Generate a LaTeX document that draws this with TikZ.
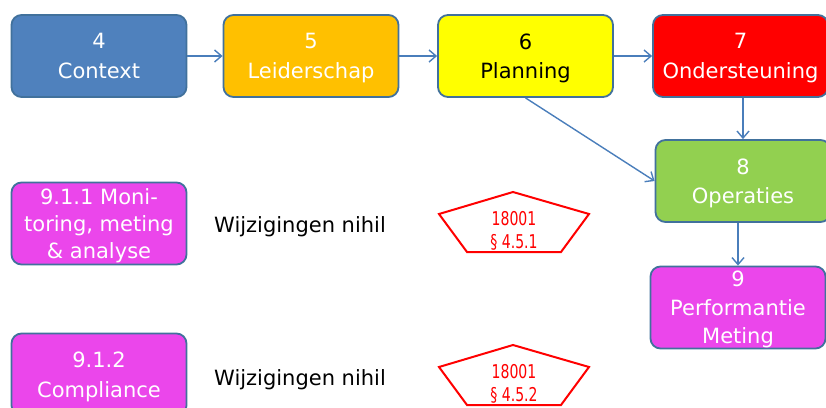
\documentclass[tikz,border=0pt]{standalone}
\usepackage{fontspec}
\setmainfont{DejaVu Sans}
\newfontfamily\narrowfont{DejaVu Sans}[FakeStretch=0.74]
\usepackage{xcolor}
\usepackage{tikz}
\usetikzlibrary{arrows.meta}
\definecolor{ctxblue}{HTML}{4F81BD}
\definecolor{leadorange}{HTML}{FFC000}
\definecolor{planyellow}{HTML}{FFFF00}
\definecolor{suppred}{HTML}{FF0000}
\definecolor{opergreen}{HTML}{92D050}
\definecolor{perfpink}{HTML}{EB46EB}
\definecolor{boxline}{HTML}{41719C}
\definecolor{arrowblue}{HTML}{4A7EBB}
\tikzstyle{process} = [rectangle, rounded corners=10pt, minimum width=175pt, minimum height=82pt, inner sep=0pt, text depth=0pt, align=center, draw=boxline, line width=1.8pt, text=white, font=\fontsize{21}{29.5}\selectfont]
\tikzstyle{remark} = [inner sep=0pt, font=\fontsize{21}{25}\selectfont]
\tikzstyle{clause} = [inner sep=0pt, align=center, text=red, font=\narrowfont\fontsize{19}{23}\selectfont]
\tikzstyle{pent} = [draw=red, line width=2pt, line join=miter]
\tikzstyle{arrow} = [line width=1.4pt, draw=arrowblue, -{Straight Barb[length=7pt,width=12pt]}]

\begin{document}
\begin{tikzpicture}[x=1pt, y=1pt, node distance=125pt]
\useasboundingbox (0,0) rectangle (826,-407);
\node (ctx) [process, fill=ctxblue] at (99,-56) {4\\Context};
\node (lead) [process, fill=leadorange, right of=ctx, xshift=87pt] {5\\Leiderschap};
\node (plan) [process, fill=planyellow, text=black, right of=lead, xshift=89.5pt] {6\\Planning};
\node (supp) [process, fill=suppred, right of=plan, xshift=90pt] {7\\Ondersteuning};
\node (oper) [process, fill=opergreen, below of=supp, xshift=2.5pt] {8\\Operaties};
\node (perf) [process, fill=perfpink, below of=oper, xshift=-5pt, yshift=-1.5pt, font=\fontsize{21}{28.3}\selectfont] {9\\Performantie\\Meting};

\node (mon) [process, fill=perfpink, below of=ctx, yshift=-42.5pt, font=\fontsize{21}{27}\selectfont] {9.1.1 Moni-\\toring, meting\\\& analyse};
\node (comp) [process, fill=perfpink, below of=mon, yshift=-26pt] {9.1.2\\Compliance};

\node (nihil1) [remark, right of=mon, xshift=76pt, yshift=-3pt] {Wijzigingen nihil};
\node (nihil2) [remark, right of=comp, xshift=76pt, yshift=-5.5pt] {Wijzigingen nihil};

\node (iso1) [clause, right of=nihil1, xshift=89pt, yshift=-4pt] {18001\\§ 4.5.1};
\node (iso2) [clause, right of=nihil2, xshift=89pt, yshift=-3.5pt] {18001\\§ 4.5.2};
\draw [pent] (iso1) ++(-1,38.5) -- ++(76,-22) -- ++(-28,-38) -- ++(-94,0) -- ++(-28,38) -- cycle;
\draw [pent] (iso2) ++(-1,38.5) -- ++(76,-22) -- ++(-28,-38) -- ++(-94,0) -- ++(-28,38) -- cycle;

\draw [arrow] (ctx) -- (lead);
\draw [arrow] (lead) -- (plan);
\draw [arrow] (plan) -- (supp);
\draw [arrow] (supp.south -| oper.north) -- (oper.north);
\draw [arrow] (oper.south -| perf.north) -- (perf.north);
\draw [arrow] (plan.south) -- (oper.west);

\end{tikzpicture}
\end{document}
